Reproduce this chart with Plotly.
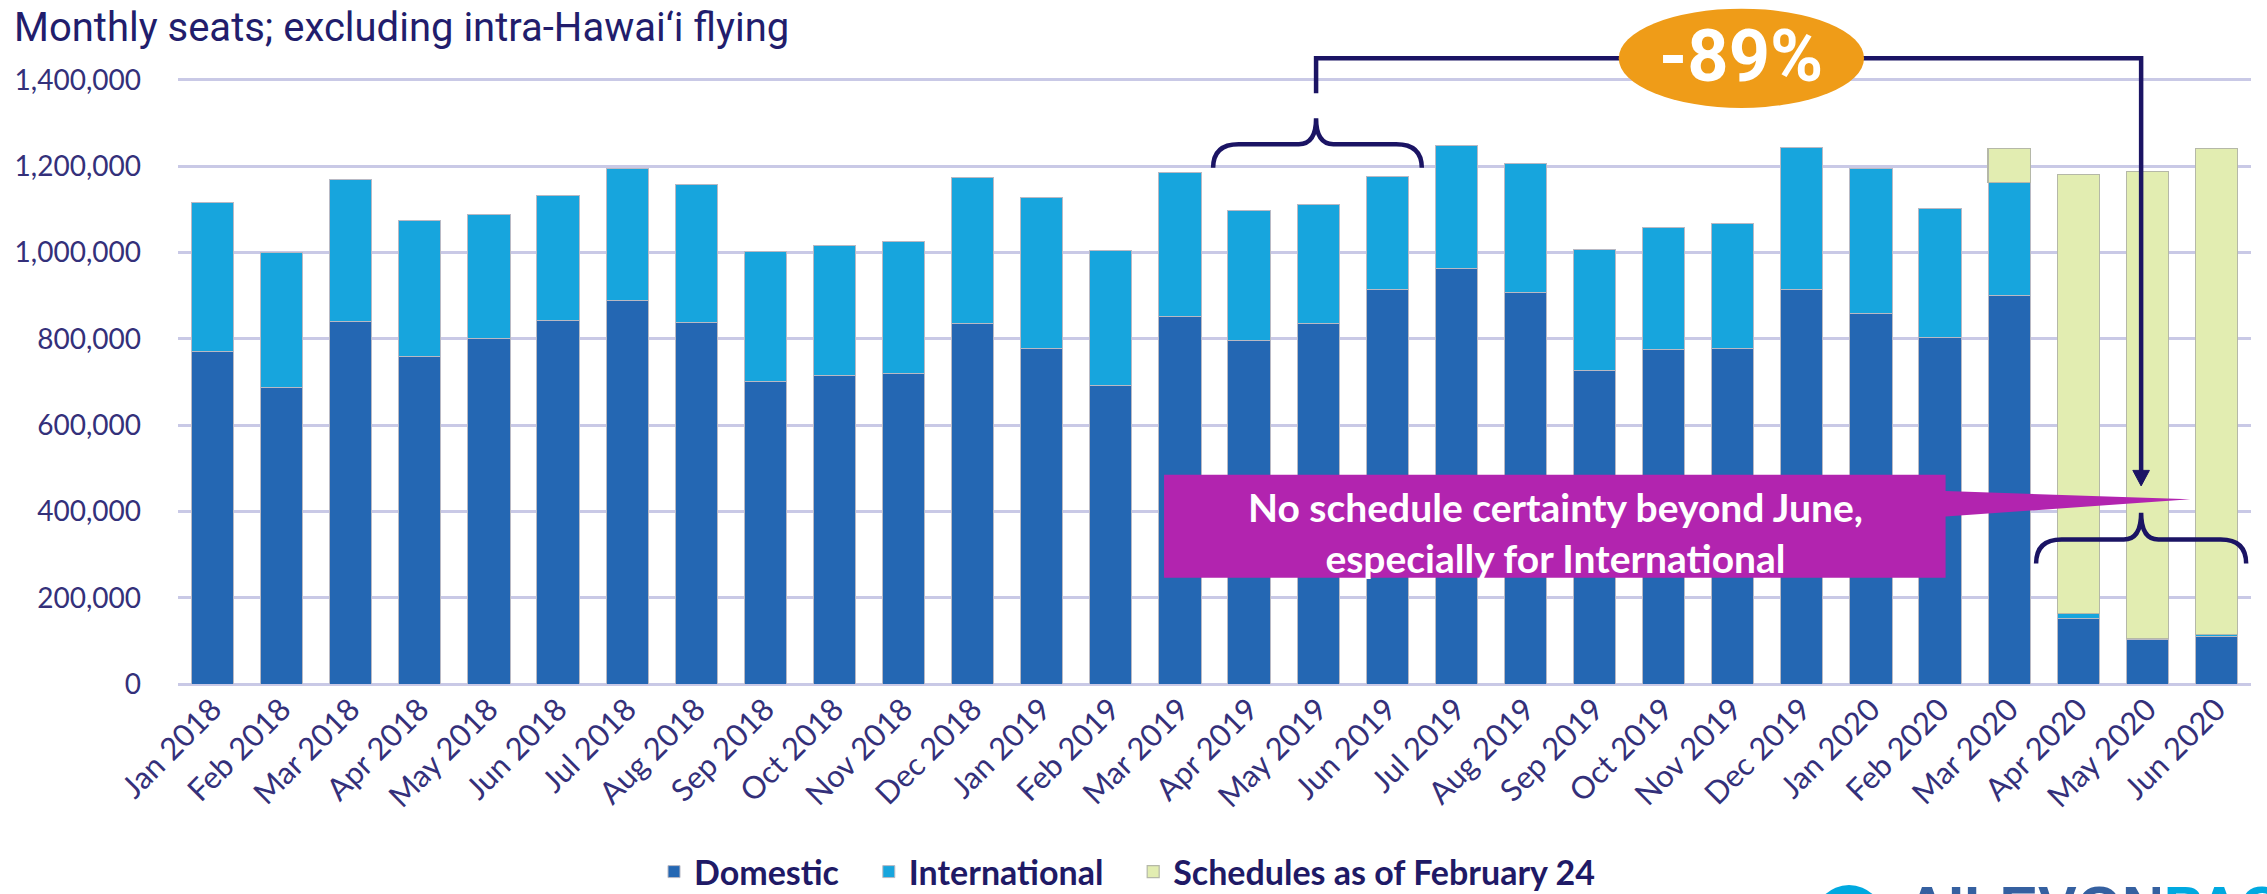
import plotly.graph_objects as go

# ---------------- data ----------------
months = ["Jan 2018", "Feb 2018", "Mar 2018", "Apr 2018", "May 2018", "Jun 2018",
          "Jul 2018", "Aug 2018", "Sep 2018", "Oct 2018", "Nov 2018", "Dec 2018",
          "Jan 2019", "Feb 2019", "Mar 2019", "Apr 2019", "May 2019", "Jun 2019",
          "Jul 2019", "Aug 2019", "Sep 2019", "Oct 2019", "Nov 2019", "Dec 2019",
          "Jan 2020", "Feb 2020", "Mar 2020", "Apr 2020", "May 2020", "Jun 2020"]

domestic = [770000, 688000, 840000, 760000, 800000, 843000,
            888000, 838000, 700000, 714000, 720000, 835000,
            778000, 692000, 852000, 795000, 835000, 915000,
            962000, 908000, 727000, 775000, 778000, 915000,
            858000, 804000, 901000, 152000, 103000, 111000]

international = [345000, 312000, 328000, 315000, 287000, 289000,
                 307000, 319000, 303000, 303000, 305000, 338000,
                 350000, 312000, 334000, 303000, 275000, 262000,
                 286000, 299000, 280000, 283000, 288000, 328000,
                 337000, 299000, 262000, 12000, 2000, 3000]

# total seats in the schedules as of February 24 (only for Mar-Jun 2020)
schedule_total = [None] * 26 + [1240000, 1180000, 1188000, 1240000]

y_ticks = [0, 200000, 400000, 600000, 800000, 1000000, 1200000, 1400000]

change_label = "-89%"
callout_text = "No schedule certainty beyond June,<br>especially for International"

# ---------------- derived ----------------
x = list(range(len(months)))
schedule_extra = [None if s is None else s - d - i
                  for s, d, i in zip(schedule_total, domestic, international)]

NAVY = "#1B1464"
TXT = "#34307A"
OUTLINE = "#B9B9C4"
NB = "\u00a0"

fig = go.Figure()
fig.add_bar(x=x, y=domestic, name="Domestic" + NB * 3,
            marker=dict(color="#2467B3", line=dict(color=OUTLINE, width=1)))
fig.add_bar(x=x, y=international, name="International" + NB * 3,
            marker=dict(color="#17A5DD", line=dict(color=OUTLINE, width=1)))
fig.add_bar(x=x, y=schedule_extra, name="Schedules as of February 24",
            marker=dict(color="#E2EDB1", line=dict(color="#B5B8A8", width=1.2)))

# ---------------- geometry helpers (plot area in px) ----------------
W, H = 2267, 894
L, R, T, B = 178, 16, 0, 210
plot_w = W - L - R
plot_h = H - T - B
Y_TOP = 1585000


def px_x(p):
    return (p - L) / plot_w


def px_y(p):
    return (H - B - p) / plot_h


shapes = []
lw = 4.5
# top brace over Apr-Jun 2019
shapes.append(dict(type="path", xref="x", yref="y", layer="above",
                   line=dict(color=NAVY, width=lw),
                   path=("M 14.48,1196000 Q 14.48,1251000 14.85,1251000 L 15.72,1251000 "
                         "Q 15.97,1251000 15.97,1311000 Q 15.97,1251000 16.22,1251000 "
                         "L 17.13,1251000 Q 17.5,1251000 17.5,1196000")))
# connector line
shapes.append(dict(type="path", xref="x", yref="y", layer="above",
                   line=dict(color=NAVY, width=lw),
                   path="M 15.97,1369000 L 15.97,1450000 L 27.91,1450000 L 27.91,492000"))
# arrow head
shapes.append(dict(type="path", xref="x", yref="y", layer="above",
                   line=dict(color=NAVY, width=1), fillcolor=NAVY,
                   path="M 27.79,495000 L 27.91,459000 L 28.03,495000 Z"))
# bottom brace over Apr-Jun 2020
shapes.append(dict(type="path", xref="x", yref="y", layer="above",
                   line=dict(color=NAVY, width=lw),
                   path=("M 26.39,279000 Q 26.39,335000 26.76,335000 L 27.66,335000 "
                         "Q 27.91,335000 27.91,397000 Q 27.91,335000 28.16,335000 "
                         "L 29.06,335000 Q 29.43,335000 29.43,279000")))
# orange ellipse
shapes.append(dict(type="circle", xref="x", yref="y", layer="above",
                   x0=20.35, x1=23.9, y0=1335000, y1=1565000,
                   fillcolor="#EF9C18", line=dict(width=0)))
# magenta callout
shapes.append(dict(type="path", xref="x", yref="y", layer="above",
                   fillcolor="#B224AF", line=dict(width=0),
                   path=("M 13.77,485000 L 25.08,485000 L 25.08,447000 L 28.62,428000 "
                         "L 25.08,388000 L 25.08,246000 L 13.77,246000 Z")))
# logo circle (partially visible at bottom right)
shapes.append(dict(type="circle", xref="paper", yref="paper", layer="above",
                   x0=px_x(1814), x1=px_x(1884), y0=px_y(955), y1=px_y(885),
                   fillcolor="#00A9E0", line=dict(width=0)))

annotations = [
    dict(text="Monthly seats; excluding intra-Hawai\u2018i flying", xref="paper", yref="paper",
         x=px_x(12), y=px_y(27), xanchor="left", yanchor="middle", showarrow=False,
         font=dict(family="Roboto, Lato, sans-serif", size=40, color="#221D6C")),
    dict(text="<b>%s</b>" % change_label, xref="x", yref="y", x=22.12, y=1455000,
         showarrow=False, font=dict(family="Roboto, sans-serif", size=72, color="white")),
    dict(text="<b>%s</b>" % callout_text, xref="x", yref="y", x=19.43, y=350000,
         showarrow=False, align="center",
         font=dict(family="Lato, Roboto, sans-serif", size=39, color="white")),
    dict(text="<b><span style='color:#3560A0'>AILEVON</span>"
              "<span style='color:#00A9E0'>PACIFIC</span></b>",
         xref="paper", yref="paper", x=px_x(1904), y=px_y(872),
         xanchor="left", yanchor="top", showarrow=False,
         font=dict(family="Liberation Sans, Arial, sans-serif", size=58)),
]

fig.update_layout(
    width=W, height=H,
    margin=dict(l=L, r=R, t=T, b=B, autoexpand=False),
    paper_bgcolor="white", plot_bgcolor="white",
    barmode="stack", bargap=0.39,
    font=dict(family="Lato, Roboto, sans-serif", color=TXT),
    showlegend=True,
    legend=dict(orientation="h", xref="container", yref="container",
                x=654 / W, y=1 - 872 / H, xanchor="left", yanchor="middle",
                font=dict(family="Lato, Roboto, sans-serif", size=34, color="#1F1A66",
                          weight="bold"),
                traceorder="normal", bgcolor="rgba(0,0,0,0)"),
    shapes=shapes,
    annotations=annotations,
    xaxis=dict(range=[-0.5, 29.5], tickmode="array", tickvals=x, ticktext=months,
               tickangle=-45, tickfont=dict(size=31, color=TXT), showgrid=False,
               zeroline=False, showline=False, ticks="", automargin=False),
    yaxis=dict(range=[0, Y_TOP], tickmode="array", tickvals=y_ticks, tickformat=",d",
               tickfont=dict(size=28, color=TXT), showgrid=True, gridcolor="#C9C9E6",
               gridwidth=3, zeroline=True, zerolinecolor="#C9C9E6", zerolinewidth=3,
               showline=False, ticks="", ticklabelstandoff=36, automargin=False),
)

fig.write_html("out.html", config={"displayModeBar": False},
               post_script="document.body.style.margin='0px';")
